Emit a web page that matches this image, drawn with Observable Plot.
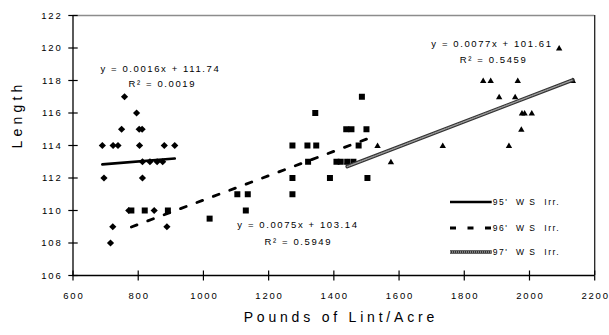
<!DOCTYPE html>
<html><head><meta charset="utf-8">
<script src="https://cdn.jsdelivr.net/npm/d3@7"></script>
<script src="https://cdn.jsdelivr.net/npm/@observablehq/plot@0.6"></script>
<style>
body{margin:0;background:#fff;}
#chart{position:relative;width:609px;height:335px;}
#legend{position:absolute;left:0;top:0;pointer-events:none;}
svg text{white-space:pre;}
g[fill="#000001"]{letter-spacing:1.8px;}
g[fill="#000002"]{letter-spacing:1.6px;}
g[fill="#000003"]{letter-spacing:3.8px;}
g[fill="#000004"]{letter-spacing:4.2px;}
</style></head><body><div id="chart"></div>
<script>
// ---- data ----
const x95 = [690,723,738,749,758,795,803,812,804,880,912,695,813,813,836,858,875,771,849,722,888,715];
const y95 = [114,114,114,115,117,116,115,115,114,114,114,112,112,113,113,113,113,110,110,109,109,108];
const x96 = [779,820,891,1019,1486,1343,1438,1454,1500,1273,1319,1346,1476,1321,1408,1421,1441,1460,1273,1388,1503,1104,1136,1273,1130];
const y96 = [110,110,110,109.5,117,116,115,115,115,114,114,114,114,113,113,113,113,113,112,112,112,111,111,111,110];
const x97 = [1441,1534,1575,1734,1937,1975,1977,1985,2007,1907,1956,1858,1881,1964,2133,2091];
const y97 = [113,114,113,114,114,115,116,116,116,117,117,118,118,118,118,120];
const seriesNames = ["95'  W S  Irr.", "96'  W S  Irr.", "97'  W S  Irr."];
const slopes = [0.0016, 0.0075, 0.0077];
const intercepts = [111.74, 103.14, 101.61];
const eqLabels = ["y = 0.0016x + 111.74", "R\u00B2 = 0.0019", "y = 0.0075x + 103.14", "R\u00B2 = 0.5949", "y = 0.0077x + 101.61", "R\u00B2 = 0.5459"];
const eqX = [868, 874, 1290, 1291, 1885, 1890];
const eqY = [118.7, 117.77, 109.1, 108.09, 120.23, 119.29];
const xTicks = [600,800,1000,1200,1400,1600,1800,2000,2200];
const yTicks = [106,108,110,112,114,116,118,120,122];
const xTitle = "Pounds of Lint/Acre";
const yTitle = "Length";

const FONT = "'Liberation Sans', Arial, sans-serif";
const pts = (xs, ys) => xs.map((x, i) => ({x, y: ys[i]}));
const p95 = pts(x95, y95), p96 = pts(x96, y96), p97 = pts(x97, y97);
const trend = (xs, k) => [d3.min(xs), d3.max(xs)].map(x => ({x, y: slopes[k] * x + intercepts[k]}));
const t95 = trend(x95, 0), t96 = trend(x96, 1), t97 = trend(x97, 2);
const eqTable = eqLabels.map((t, i) => ({t, x: eqX[i], y: eqY[i]}));

const rad = s => Math.sqrt(s / Math.PI);
const diamond = {draw(c, s){const r = rad(s); c.moveTo(0,-r*0.95); c.lineTo(r,0); c.lineTo(0,r*0.95); c.lineTo(-r,0); c.closePath();}};
const square = {draw(c, s){const r = rad(s); c.moveTo(-r,-r); c.lineTo(r,-r); c.lineTo(r,r); c.lineTo(-r,r); c.closePath();}};
const triangle = {draw(c, s){const r = rad(s); c.moveTo(0,-r*0.95); c.lineTo(r,r*0.75); c.lineTo(-r,r*0.75); c.closePath();}};
const vTick = {draw(c, s){const r = rad(s); c.moveTo(0,-r); c.lineTo(0,r);}};
const hTick = {draw(c, s){const r = rad(s); c.moveTo(-r,0); c.lineTo(r,0);}};

const plot = Plot.plot({
  width: 609, height: 335,
  marginTop: 15, marginRight: 14.8, marginBottom: 60, marginLeft: 72.5,
  x: {domain: [600, 2200], axis: null},
  y: {domain: [106, 122], axis: null},
  style: {fontFamily: FONT, background: "white", overflow: "visible"},
  marks: [
    Plot.ruleY([122], {stroke: "#8c8c8c", strokeWidth: 1.3}),
    Plot.ruleX([2200], {stroke: "#222", strokeWidth: 1.3}),
    Plot.ruleX([600], {stroke: "#000", strokeWidth: 1.3}),
    Plot.ruleY([106], {stroke: "#000", strokeWidth: 1.3}),
    Plot.dot(xTicks, {x: d => d, frameAnchor: "bottom", symbol: vTick, r: 5, stroke: "#000", strokeWidth: 1.2, fill: "none"}),
    Plot.dot(yTicks, {y: d => d, frameAnchor: "left", symbol: hTick, r: 4.7, stroke: "#000", strokeWidth: 1.2, fill: "none"}),
    Plot.text(xTicks, {x: d => d, text: d => String(d), frameAnchor: "bottom", lineAnchor: "top", dy: 16.5, dx: 0.9, fontSize: 9.5, fill: "#000001"}),
    Plot.text(yTicks, {y: d => d, text: d => String(d), frameAnchor: "left", textAnchor: "end", dx: -10.5, fontSize: 9.5, fill: "#000001"}),
    Plot.text([xTitle], {text: d => d, frameAnchor: "bottom", dy: 46, dx: 7, fontSize: 14, fill: "#000003"}),
    Plot.text([yTitle], {text: d => d, frameAnchor: "left", rotate: -90, dx: -55.5, dy: 3, fontSize: 14, fill: "#000004"}),
    Plot.dot(p95, {x: "x", y: "y", symbol: diamond, r: 3.6, fill: "#000", stroke: "none"}),
    Plot.dot(p96, {x: "x", y: "y", symbol: square, r: 3, fill: "#000", stroke: "none"}),
    Plot.dot(p97, {x: "x", y: "y", symbol: triangle, r: 3.2, fill: "#000", stroke: "none"}),
    Plot.line(t95, {x: "x", y: "y", stroke: "#000", strokeWidth: 2.7}),
    Plot.line(t96, {x: "x", y: "y", stroke: "#000", strokeWidth: 2.8, strokeDasharray: "6,11.5"}),
    Plot.line(t97, {x: "x", y: "y", stroke: "#333", strokeWidth: 3.6}),
    Plot.line(t97, {x: "x", y: "y", stroke: "#9a9a9a", strokeWidth: 1.4, strokeDasharray: "1,1"}),
    Plot.text(eqTable, {x: "x", y: "y", text: "t", fontSize: 9.5, fill: "#000002"})
  ]
});
const chart = document.getElementById("chart");
chart.appendChild(plot);

// legend overlay
const lg = d3.select(chart).append("svg").attr("id", "legend").attr("width", 609).attr("height", 335);
const rows = [202, 228, 252];
const styles = [
  [{stroke: "#000", w: 2.7, dash: null}],
  [{stroke: "#000", w: 2.8, dash: "6,11.5"}],
  [{stroke: "#333", w: 3.6, dash: null}, {stroke: "#9a9a9a", w: 1.4, dash: "1,1"}]
];
seriesNames.forEach((name, i) => {
  styles[i].forEach(s => {
    lg.append("line").attr("x1", 450).attr("x2", 491.7).attr("y1", rows[i]).attr("y2", rows[i])
      .attr("stroke", s.stroke).attr("stroke-width", s.w).attr("stroke-dasharray", s.dash);
  });
  lg.append("text").attr("x", 492.7).attr("y", rows[i] + 3).text(name)
    .attr("font-family", FONT).attr("font-size", 8.5).attr("letter-spacing", "1.5px").attr("fill", "#000");
});
</script>
</body></html>
